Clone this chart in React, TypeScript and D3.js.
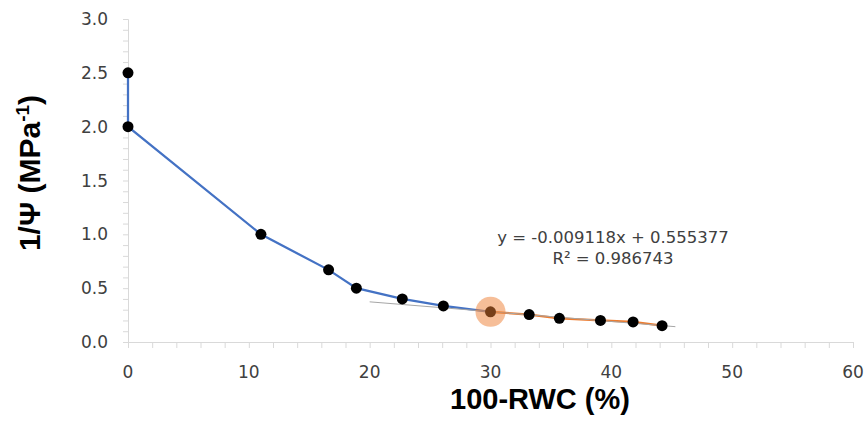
import React, { useRef, useEffect } from "react";
import * as d3 from "d3";

const width = 868;
const height = 421;
const margin = { top: 19, left: 128, bottom: 79, right: 15 };
const iwidth = width - margin.left - margin.right;
const iheight = height - margin.top - margin.bottom;

// 100-RWC (%) and 1/psi (MPa-1)
const rwc = [0, 0, 11.0, 16.6, 18.9, 22.7, 26.1, 30.0, 33.2, 35.7, 39.1, 41.8, 44.2];
const invPsi = [2.5, 2.0, 1.0, 0.67, 0.5, 0.4, 0.335, 0.28, 0.255, 0.22, 0.2, 0.186, 0.152];
// index where the linear (turgor loss) part starts
const tlpIndex = 7;
const trendSlope = -0.009118;
const trendIntercept = 0.555377;
const trendRange = [20, 45.3];
const xTicks = [0, 10, 20, 30, 40, 50, 60];
const yTicks = [0, 0.5, 1.0, 1.5, 2.0, 2.5, 3.0];

const tickFont = "DejaVu Sans, sans-serif";
const titleFont = "Liberation Sans, Arial, sans-serif";

const Chart = () => {
  const ref = useRef<SVGSVGElement>(null);

  useEffect(() => {
    const svg = d3.select(ref.current);
    svg.selectAll("*").remove();
    svg.attr("width", width).attr("height", height);

    const x = d3.scaleLinear().domain([0, 60]).range([0, iwidth]);
    const y = d3.scaleLinear().domain([0, 3]).range([iheight, 0]);

    const g = svg
      .append("g")
      .attr("transform", `translate(${margin.left},${margin.top})`);

    // x axis with minor ticks every 2
    const xa = g
      .append("g")
      .attr("transform", `translate(0,${iheight})`)
      .call(
        d3.axisBottom(x).tickValues(d3.range(0, 61, 2)).tickSize(6).tickFormat(() => "")
      );
    xa.select(".domain").attr("stroke", "#d9d9d9");
    xa.selectAll(".tick line").attr("stroke", "#d9d9d9");

    const ya = g
      .append("g")
      .call(
        d3.axisLeft(y).tickValues(d3.range(0, 31).map((d) => d / 10)).tickSize(5).tickFormat(() => "")
      );
    ya.select(".domain").attr("stroke", "#d9d9d9");
    ya.selectAll(".tick line").attr("stroke", "#d9d9d9");

    g.selectAll(".xlab")
      .data(xTicks)
      .enter()
      .append("text")
      .attr("x", (d) => x(d))
      .attr("y", iheight + 36)
      .attr("text-anchor", "middle")
      .attr("font-family", tickFont)
      .attr("font-size", 17)
      .attr("fill", "#404040")
      .text((d) => d);

    g.selectAll(".ylab")
      .data(yTicks)
      .enter()
      .append("text")
      .attr("x", -20)
      .attr("y", (d) => y(d))
      .attr("dy", "0.36em")
      .attr("text-anchor", "end")
      .attr("font-family", tickFont)
      .attr("font-size", 17)
      .attr("fill", "#404040")
      .text((d) => d.toFixed(1));

    const pts = rwc.map((d, i) => [d, invPsi[i]] as [number, number]);
    const line = d3
      .line<[number, number]>()
      .x((d) => x(d[0]))
      .y((d) => y(d[1]));

    g.append("path")
      .attr("d", line(pts.slice(0, tlpIndex + 1)))
      .attr("fill", "none")
      .attr("stroke", "#4472c4")
      .attr("stroke-width", 2.25);

    g.append("path")
      .attr("d", line(pts.slice(tlpIndex)))
      .attr("fill", "none")
      .attr("stroke", "#ed7d31")
      .attr("stroke-width", 2.25);

    g.append("path")
      .attr(
        "d",
        line(trendRange.map((d) => [d, trendSlope * d + trendIntercept] as [number, number]))
      )
      .attr("fill", "none")
      .attr("stroke", "#a6a6a6")
      .attr("stroke-width", 1);

    g.selectAll(".dot")
      .data(pts)
      .enter()
      .append("circle")
      .attr("cx", (d) => x(d[0]))
      .attr("cy", (d) => y(d[1]))
      .attr("r", 5.5)
      .attr("fill", "#000");

    g.append("circle")
      .attr("cx", x(pts[tlpIndex][0]))
      .attr("cy", y(pts[tlpIndex][1]))
      .attr("r", 15)
      .attr("fill", "#ed7d31")
      .attr("opacity", 0.5);

    const eq = g
      .append("text")
      .attr("text-anchor", "middle")
      .attr("font-family", tickFont)
      .attr("font-size", 16.5)
      .attr("fill", "#404040");
    eq.append("tspan")
      .attr("x", 613 - margin.left)
      .attr("y", 243 - margin.top)
      .text("y = -0.009118x + 0.555377");
    eq.append("tspan")
      .attr("x", 613 - margin.left)
      .attr("y", 264 - margin.top)
      .text("R² = 0.986743");

    svg
      .append("text")
      .attr("x", 540)
      .attr("y", 409)
      .attr("text-anchor", "middle")
      .attr("font-family", titleFont)
      .attr("font-weight", "bold")
      .attr("font-size", 29)
      .attr("fill", "#000")
      .text("100-RWC (%)");

    const yt = svg
      .append("text")
      .attr("transform", "translate(40,173) rotate(-90)")
      .attr("text-anchor", "middle")
      .attr("font-family", titleFont)
      .attr("font-weight", "bold")
      .attr("font-size", 30)
      .attr("fill", "#000");
    yt.append("tspan").text("1/Ψ (MPa");
    yt.append("tspan").attr("font-size", 19).attr("dy", -11).text("-1");
    yt.append("tspan").attr("dy", 11).text(")");
  }, []);

  return <svg ref={ref} style={{ position: "absolute", left: 0, top: 0 }}></svg>;
};

export default function App() {
  return <Chart />;
}
